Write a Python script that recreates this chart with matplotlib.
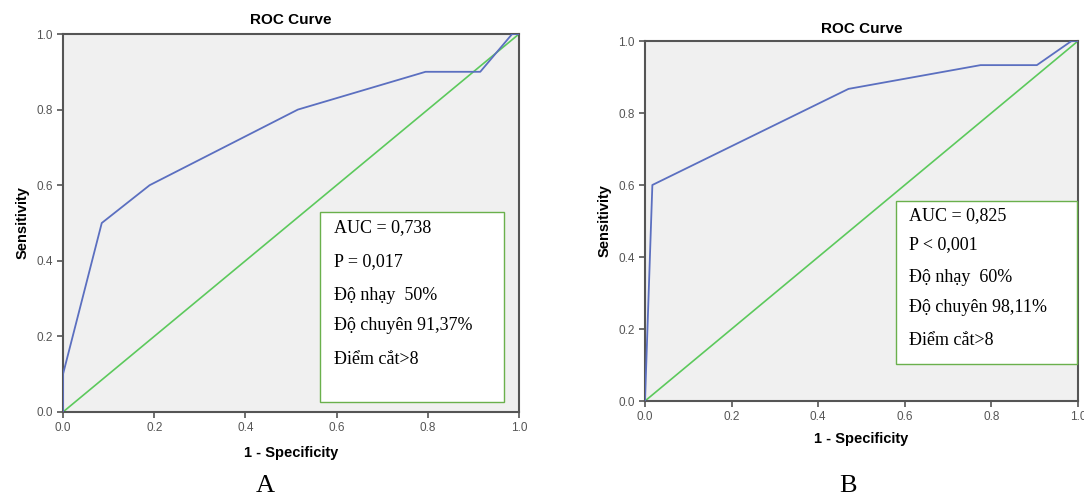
import matplotlib
matplotlib.use("Agg")
import matplotlib.pyplot as plt
from matplotlib.patches import Rectangle

plt.rcParams['font.family'] = ['Liberation Sans', 'DejaVu Sans']

# Panel A data
fpr_a = [0.0, 0.0, 0.085, 0.19, 0.515, 0.795, 0.915, 0.985, 1.0]
tpr_a = [0.0, 0.1, 0.5, 0.6, 0.8, 0.9, 0.9, 1.0, 1.0]
# Panel B data
fpr_b = [0.0, 0.017, 0.47, 0.775, 0.905, 0.985, 1.0]
tpr_b = [0.0, 0.6, 0.867, 0.933, 0.933, 1.0, 1.0]
ref_line = [0.0, 1.0]

text_a = ["AUC = 0,738", "P = 0,017", "Độ nhạy  50%", "Độ chuyên 91,37%", "Điểm cắt>8"]
text_b = ["AUC = 0,825", "P < 0,001", "Độ nhạy  60%", "Độ chuyên 98,11%", "Điểm cắt>8"]
ticks = [0.0, 0.2, 0.4, 0.6, 0.8, 1.0]
tick_labels = ["0.0", "0.2", "0.4", "0.6", "0.8", "1.0"]

W, H = 1084, 498
fig = plt.figure(figsize=(W / 100, H / 100), dpi=100)

BLUE = "#5b6fc0"
GREEN = "#5cc95c"
BOX = "#6ab04c"

def panel(rect, fpr, tpr, lines, box, line_ys, letter_xy, title_y, xlabel_pad):
    ax = fig.add_axes(rect)
    ax.set_facecolor("#f0f0f0")
    ax.plot(ref_line, ref_line, color=GREEN, lw=1.2, zorder=2)
    ax.plot(fpr, tpr, color=BLUE, lw=1.3, zorder=3)
    ax.set_xlim(0, 1)
    ax.set_ylim(0, 1)
    ax.set_xticks(ticks)
    ax.set_xticklabels(tick_labels)
    ax.set_yticks(ticks)
    ax.set_yticklabels(tick_labels)
    ax.tick_params(labelsize=8.5, colors="#555555", length=4, width=1.2, direction="out")
    for s in ax.spines.values():
        s.set_color("#555555")
        s.set_linewidth(1.5)
    ax.set_xlabel("1 - Specificity", fontsize=10.5, fontweight="bold", labelpad=xlabel_pad)
    ax.set_ylabel("Sensitivity", fontsize=10.5, fontweight="bold", labelpad=5)
    ax.set_title("ROC Curve", fontsize=11, fontweight="bold", pad=title_y)
    x0, y0, x1, y1 = box
    ax.add_patch(Rectangle((x0, y0), x1 - x0, y1 - y0, facecolor="white",
                           edgecolor=BOX, lw=1.0, zorder=4, clip_on=False))
    for t, yy in zip(lines, line_ys):
        ax.text(x0 + 0.03, yy, t, fontsize=13, family="Liberation Serif",
                va="center", ha="left", zorder=5)
    fig.text(letter_xy[0] / W, 1 - letter_xy[1] / H, letter_xy[2], fontsize=19,
             family="Liberation Serif", ha="center", va="center")
    return ax

# Panel A
panel([63 / W, 1 - 412 / H, 456 / W, 378 / H], fpr_a, tpr_a, text_a,
      (0.564, 0.026, 0.967, 0.529),
      [(412 - y) / 378 for y in [228, 262, 295, 326, 360]],
      (265, 486, "A"), 7, 8)

# Panel B
panel([645 / W, 1 - 401 / H, 433 / W, 360 / H], fpr_b, tpr_b, text_b,
      (0.58, 0.103, 0.998, 0.556),
      [(401 - y) / 360 for y in [216, 245, 278, 308, 340]],
      (848, 486, "B"), 6, 6)

fig.savefig("out.png", dpi=100)
